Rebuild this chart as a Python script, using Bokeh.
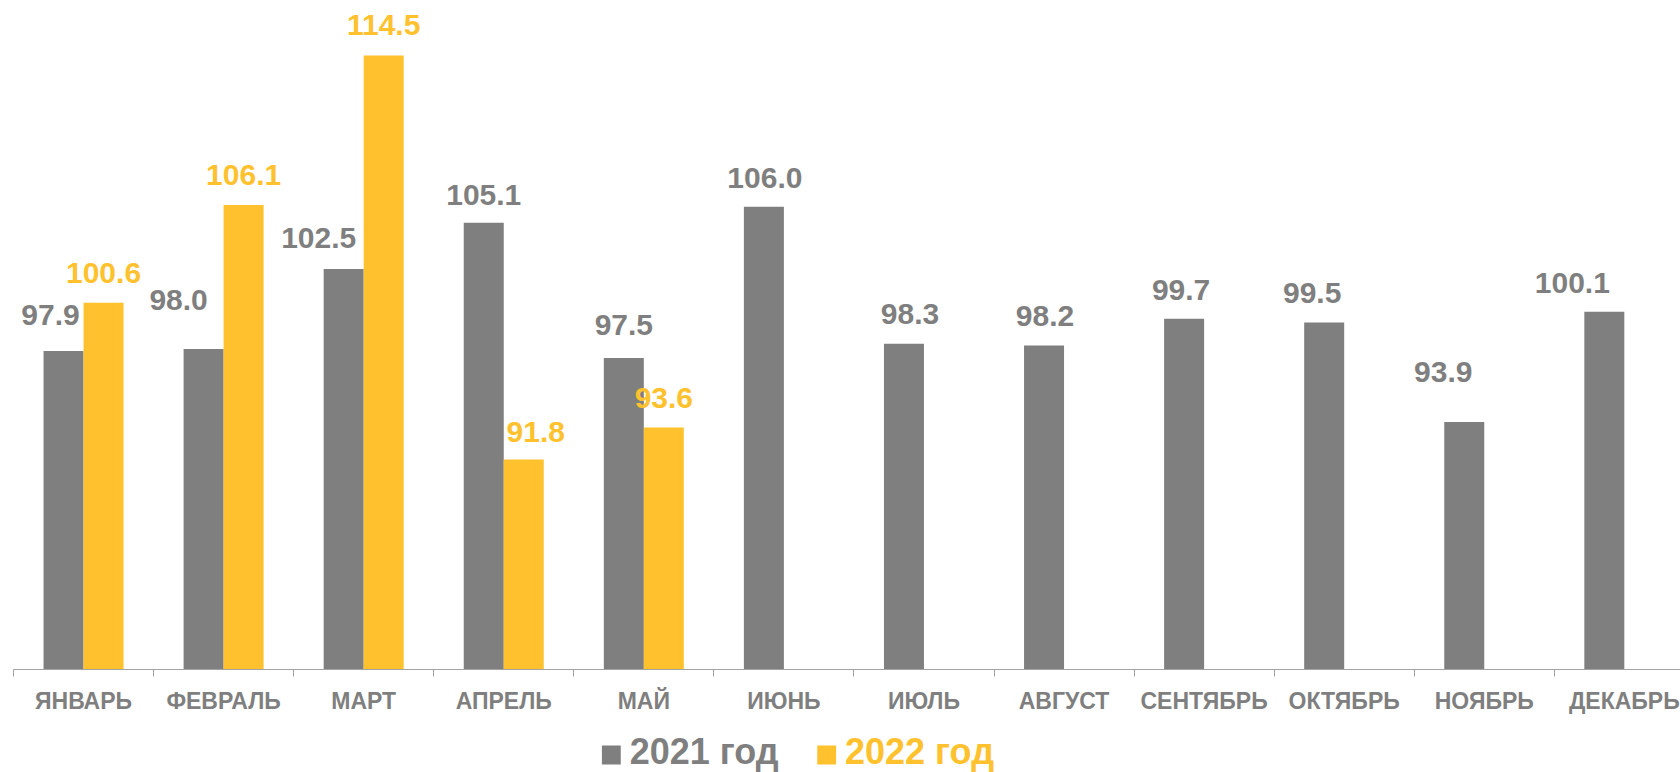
from bokeh.plotting import figure
from bokeh.layouts import column
from bokeh.models import ColumnDataSource, Range1d, FixedTicker
from bokeh.transform import dodge
from bokeh.core.properties import value
from bokeh.embed import file_html
from bokeh.resources import INLINE

# ---- data ----
months = ["ЯНВАРЬ", "ФЕВРАЛЬ", "МАРТ", "АПРЕЛЬ", "МАЙ", "ИЮНЬ",
          "ИЮЛЬ", "АВГУСТ", "СЕНТЯБРЬ", "ОКТЯБРЬ", "НОЯБРЬ", "ДЕКАБРЬ"]
v2021 = [97.9, 98.0, 102.5, 105.1, 97.5, 106.0, 98.3, 98.2, 99.7, 99.5, 93.9, 100.1]
v2022 = [100.6, 106.1, 114.5, 91.8, 93.6]
series_names = ["2021 год", "2022 год"]

# ---- label nudges in screen px (style, mimics manual placement) ----
dx21 = [-13, -25, -25, 0, 0, 1, 6, 1, -3, -12, -21, -32]
gap21 = [25, 38, 20, 17, 22, 18, 19, 19, 18, 18, 39, 18]
dx22 = [0, 0, 0, 12, 0]
gap22 = [19, 19, 19, 16, 18]
BASE_FIX = 11   # renderer places the baseline lower than requested

GRAY = "#7f7f7f"
YELLOW = "#ffc22e"
AXIS = "#a3a3a3"
FONT = "Liberation Sans"

y0 = 80.0
bw = 0.2856
shift = bw / 2

pos = [i + 0.5 for i in range(len(months))]
src21 = ColumnDataSource(dict(
    x=pos, top=v2021, lbl=[f"{v:.1f}" for v in v2021],
    dx=dx21, dy=[-(g + BASE_FIX) for g in gap21]))
src22 = ColumnDataSource(dict(
    x=pos[:len(v2022)], top=v2022, lbl=[f"{v:.1f}" for v in v2022],
    dx=dx22, dy=[-(g + BASE_FIX) for g in gap22]))

p = figure(width=1680, height=720, output_backend="svg", toolbar_location=None,
           x_range=Range1d(0, 11.901), y_range=Range1d(y0, 117.584),
           y_axis_location=None, min_border_left=13, min_border_right=0,
           min_border_top=0, min_border_bottom=51)
p.outline_line_color = None
p.xgrid.visible = False
p.ygrid.visible = False
p.background_fill_color = "white"
p.border_fill_color = "white"

r21 = p.vbar(x=dodge("x", -shift), top="top", bottom=y0, width=bw, source=src21,
             fill_color=GRAY, line_color=None)
r22 = p.vbar(x=dodge("x", shift), top="top", bottom=y0, width=bw, source=src22,
             fill_color=YELLOW, line_color=None)

for src, off, col in [(src21, -shift, GRAY), (src22, shift, YELLOW)]:
    p.text(x=dodge("x", off), y="top", text="lbl", x_offset="dx", y_offset="dy",
           source=src, text_align="center", text_baseline="alphabetic",
           text_font=value(FONT), text_font_style="bold", text_font_size="30px",
           text_color=col)

ax = p.xaxis[0]
ax.ticker = FixedTicker(ticks=pos, minor_ticks=list(range(len(months) + 1)))
ax.major_label_overrides = {x: m for x, m in zip(pos, months)}
ax.major_tick_line_color = None
ax.major_tick_out = 0
ax.major_tick_in = 0
ax.minor_tick_out = 7
ax.minor_tick_in = 0
ax.minor_tick_line_color = AXIS
ax.axis_line_color = AXIS
ax.axis_line_width = 1
ax.major_label_standoff = 11
ax.major_label_text_font = FONT
ax.major_label_text_font_style = "bold"
ax.major_label_text_font_size = "23px"
ax.major_label_text_color = GRAY

# ---- legend strip (pixel-space figure below the chart) ----
leg = figure(width=1680, height=52, output_backend="svg", toolbar_location=None,
             x_range=Range1d(0, 1680), y_range=Range1d(52, 0),
             x_axis_location=None, y_axis_location=None,
             min_border=0)
leg.outline_line_color = None
leg.xgrid.visible = False
leg.ygrid.visible = False
leg.background_fill_color = "white"
leg.border_fill_color = "white"

sq = 19
leg_x = [593, 810]
leg_src = ColumnDataSource(dict(
    x=[x + sq / 2 for x in leg_x], tx=[x + sq + 9 for x in leg_x],
    name=series_names, col=[GRAY, YELLOW]))
leg.rect(x="x", y=44 - sq / 2, width=sq, height=sq, source=leg_src,
         fill_color="col", line_color=None)
leg.text(x="tx", y=44, y_offset=-13, text="name", source=leg_src, text_color="col",
         text_align="left", text_baseline="alphabetic",
         text_font=value(FONT), text_font_style="bold", text_font_size="36px")

layout = column(p, leg, spacing=0)
open("out.html", "w").write(file_html(layout, INLINE))
